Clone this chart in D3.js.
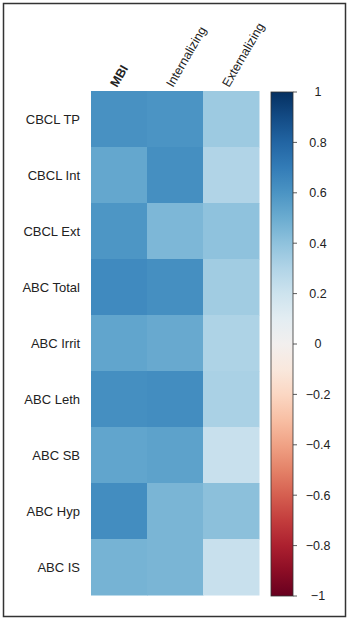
<!DOCTYPE html>
<html>
<head>
<meta charset="utf-8">
<script src="https://cdn.jsdelivr.net/npm/d3@7"></script>
<style>
  body { margin: 0; background: #fff; }
  text { font-family: "Liberation Sans", Arial, sans-serif; fill: #222; }
</style>
</head>
<body>
<svg id="chart" width="349" height="621"></svg>
<script>
// rows / columns of the correlation matrix
var rows = ["CBCL TP", "CBCL Int", "CBCL Ext", "ABC Total", "ABC Irrit", "ABC Leth", "ABC SB", "ABC Hyp", "ABC IS"];
var cols = ["MBI", "Internalizing", "Externalizing"];

// r values, one array per column
var mbi           = [0.61, 0.52, 0.59, 0.64, 0.53, 0.62, 0.53, 0.63, 0.47];
var internalizing = [0.60, 0.62, 0.45, 0.62, 0.51, 0.63, 0.54, 0.46, 0.46];
var externalizing = [0.36, 0.30, 0.40, 0.35, 0.31, 0.32, 0.22, 0.41, 0.22];

var barTicks = [1, 0.8, 0.6, 0.4, 0.2, 0, -0.2, -0.4, -0.6, -0.8, -1];

var series = [mbi, internalizing, externalizing];
var cells = [];
rows.forEach(function(r, i) {
    cols.forEach(function(c, j) {
        cells.push({row: r, col: c, value: series[j][i]});
    });
});

var svg = d3.select("#chart");

// outer frame
svg.append("rect")
    .attr("x", 3.5).attr("y", 3.5)
    .attr("width", 342).attr("height", 613)
    .attr("fill", "none").attr("stroke", "#333").attr("stroke-width", 1.5);

var x = d3.scaleBand().domain(cols).range([91, 259]);
var y = d3.scaleBand().domain(rows).range([91, 595]);

var color = function(v) { return d3.interpolateRdBu((v + 1) / 2); };

svg.append("g").selectAll("rect")
    .data(cells)
    .join("rect")
    .attr("x", d => x(d.col))
    .attr("y", d => y(d.row))
    .attr("width", x.bandwidth() + 0.5)
    .attr("height", y.bandwidth() + 0.5)
    .attr("fill", d => color(d.value));

// row labels
svg.append("g").selectAll("text")
    .data(rows)
    .join("text")
    .attr("x", 80)
    .attr("y", d => y(d) + y.bandwidth() / 2)
    .attr("dy", "0.35em")
    .attr("text-anchor", "end")
    .style("font-size", "13px")
    .text(d => d);

// column labels, rotated
svg.append("g").selectAll("text")
    .data(cols)
    .join("text")
    .attr("transform", d => "translate(" + (x(d) + x.bandwidth() / 2 - 2) + ",88) rotate(-60)")
    .style("font-size", "12.5px")
    .style("font-weight", d => d == "MBI" ? "bold" : "normal")
    .text(d => d);

// colour bar
var cb = d3.scaleLinear().domain([1, -1]).range([92, 596]);
var defs = svg.append("defs");
var grad = defs.append("linearGradient")
    .attr("id", "cbar").attr("x1", 0).attr("y1", 0).attr("x2", 0).attr("y2", 1);
d3.range(0, 1.0001, 0.05).forEach(function(t) {
    grad.append("stop")
        .attr("offset", t)
        .attr("stop-color", color(1 - 2 * t));
});
svg.append("rect")
    .attr("x", 271).attr("y", 92)
    .attr("width", 22).attr("height", 504)
    .attr("fill", "url(#cbar)")
    .attr("stroke", "#333").attr("stroke-width", 0.8);

var ticks = svg.append("g").selectAll("g")
    .data(barTicks)
    .join("g")
    .attr("transform", d => "translate(0," + cb(d) + ")");
ticks.append("line")
    .attr("x1", 293).attr("x2", 297)
    .attr("stroke", "#333").attr("stroke-width", 0.8);
ticks.append("text")
    .attr("x", 318)
    .attr("dy", "0.35em")
    .attr("text-anchor", "middle")
    .style("font-size", "12.5px")
    .text(d => d < 0 ? "\u2212" + Math.abs(d) : d);
</script>
</body>
</html>
